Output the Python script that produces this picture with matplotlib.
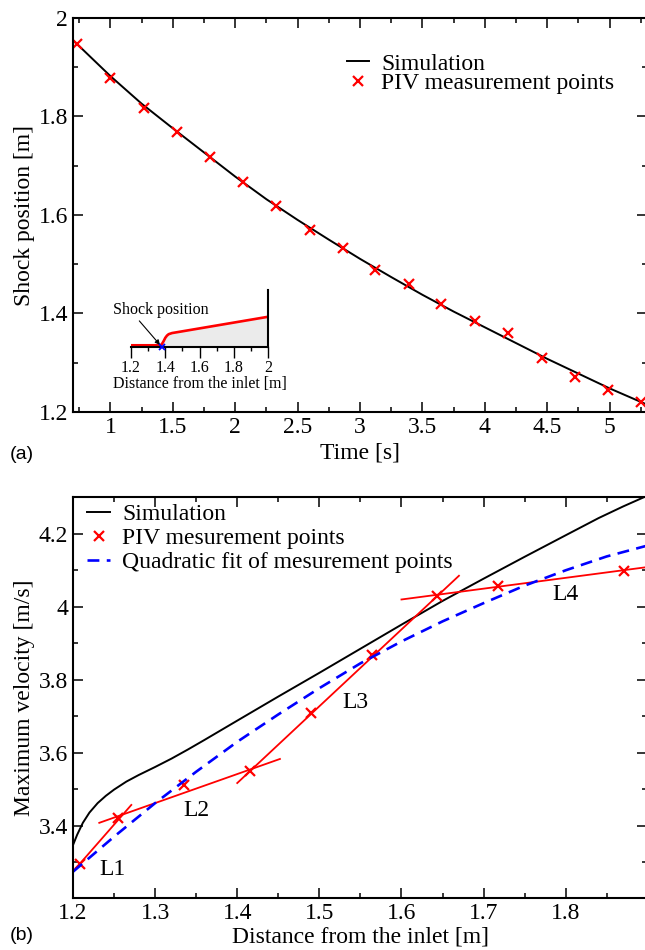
import matplotlib
matplotlib.use("Agg")
import matplotlib.pyplot as plt
from matplotlib.ticker import MultipleLocator, FuncFormatter

plt.rcParams['font.family'] = ['Liberation Serif', 'DejaVu Serif']

# ---------------- Panel (a) data ----------------
sim_t = [0.70, 1.00, 1.25, 1.50, 1.75, 2.00, 2.25, 2.50, 2.75, 3.00, 3.25, 3.50,
         3.75, 4.00, 4.25, 4.50, 4.75, 5.00, 5.30]
sim_pos = [1.955, 1.882, 1.826, 1.776, 1.727, 1.678, 1.632, 1.590, 1.550, 1.511,
           1.474, 1.438, 1.404, 1.372, 1.340, 1.308, 1.278, 1.248, 1.215]
piv_t = [0.735, 1.00, 1.27, 1.53, 1.80, 2.06, 2.33, 2.60, 2.86, 3.12, 3.39, 3.65,
         3.92, 4.19, 4.46, 4.72, 4.99, 5.25]
piv_pos = [1.947, 1.878, 1.817, 1.769, 1.717, 1.666, 1.618, 1.570, 1.534, 1.488,
           1.459, 1.419, 1.385, 1.360, 1.310, 1.272, 1.245, 1.220]

# inset profile
inset_x = [1.20, 1.37, 1.38, 1.39, 1.40, 1.41, 1.42, 1.44, 1.47, 2.00]
inset_y = [0.03, 0.03, 0.05, 0.10, 0.16, 0.20, 0.225, 0.245, 0.26, 0.53]
inset_shock_x = [1.38]
inset_shock_y = [0.0]
inset_ticks = [1.2, 1.4, 1.6, 1.8, 2.0]

# ---------------- Panel (b) data ----------------
simb_x = [1.200, 1.205, 1.212, 1.220, 1.230, 1.240, 1.250, 1.265, 1.280, 1.300,
          1.320, 1.340, 1.360, 1.400, 1.450, 1.500, 1.550, 1.600, 1.650, 1.700,
          1.750, 1.800, 1.840, 1.870, 1.900]
simb_y = [3.347, 3.375, 3.408, 3.436, 3.462, 3.482, 3.499, 3.521, 3.539, 3.561,
          3.584, 3.609, 3.635, 3.688, 3.754, 3.819, 3.885, 3.951, 4.016, 4.077,
          4.137, 4.196, 4.243, 4.275, 4.305]
pivb_x = [1.208, 1.255, 1.335, 1.416, 1.490, 1.564, 1.643, 1.717, 1.871]
pivb_y = [3.296, 3.421, 3.511, 3.550, 3.708, 3.868, 4.030, 4.058, 4.099]
fit_x = [1.20, 1.25, 1.30, 1.35, 1.40, 1.45, 1.50, 1.55, 1.60, 1.65, 1.70, 1.75,
         1.80, 1.85, 1.90]
fit_y = [3.274, 3.370, 3.462, 3.548, 3.630, 3.705, 3.777, 3.845, 3.905, 3.960,
         4.010, 4.058, 4.100, 4.138, 4.168]
seg_names = ['L1', 'L2', 'L3', 'L4']
seg_x = [[1.201, 1.271], [1.232, 1.452], [1.400, 1.670], [1.600, 1.900]]
seg_y = [[3.277, 3.457], [3.408, 3.583], [3.517, 4.085], [4.020, 4.109]]
seg_label_x = [1.2317, 1.334, 1.5277, 1.7838]
seg_label_y = [3.265, 3.427, 3.724, 4.018]

FS = 17
fig = plt.figure(figsize=(6.45, 9.5), dpi=100)

def style_axes(ax):
    for s in ax.spines.values():
        s.set_linewidth(1.5)
    ax.tick_params(which='both', direction='in', top=True, right=True,
                   labelsize=FS, pad=3.5, width=1.1)
    ax.tick_params(which='major', length=7.5)
    ax.tick_params(which='minor', length=3.5)

gfmt = FuncFormatter(lambda v, p: ('%g' % round(v, 6)))

# ---------------- Panel (a) ----------------
ax1 = fig.add_axes([73/645, 1-412/950, 574/645, 394/950])
ax1.plot(sim_t, sim_pos, color='black', lw=1.4, label='Simulation')
ax1.plot(piv_t, piv_pos, linestyle='none', marker='x', color='red', ms=7.5, mew=1.6,
         label='PIV measurement points')
ax1.set_xlim(0.7, 5.3)
ax1.set_ylim(1.2, 2.0)
ax1.xaxis.set_major_locator(MultipleLocator(0.5))
ax1.xaxis.set_minor_locator(MultipleLocator(0.25))
ax1.yaxis.set_major_locator(MultipleLocator(0.2))
ax1.yaxis.set_minor_locator(MultipleLocator(0.1))
ax1.xaxis.set_major_formatter(gfmt)
ax1.yaxis.set_major_formatter(gfmt)
style_axes(ax1)
ax1.set_xlabel('Time [s]', fontsize=FS, labelpad=3.5)
ax1.set_ylabel('Shock position [m]', fontsize=FS, labelpad=2.5)
ax1.legend(loc='center left', bbox_to_anchor=(0.477, 0.859), frameon=False,
           fontsize=FS, handlelength=0.95, handletextpad=0.5,
           labelspacing=-0.1, borderpad=0, borderaxespad=0)

# inset
axi = fig.add_axes([131/645, 1-347/950, 137/645, 57/950])
axi.fill_between(inset_x, 0, inset_y, color='#ebebeb', lw=0)
axi.plot(inset_x, inset_y, color='red', lw=1.9, solid_capstyle='butt')
axi.plot(inset_shock_x, inset_shock_y, linestyle='none', marker='x', color='blue',
         ms=5, mew=1.3, clip_on=False, zorder=5)
axi.set_xlim(1.2, 2.0)
axi.set_ylim(0, 1)
axi.patch.set_alpha(0)
axi.spines['left'].set_visible(False)
axi.spines['top'].set_visible(False)
axi.spines['bottom'].set_linewidth(1.5)
axi.spines['right'].set_linewidth(1.5)
axi.set_xticks(inset_ticks)
axi.xaxis.set_minor_locator(MultipleLocator(0.1))
axi.xaxis.set_major_formatter(gfmt)
axi.set_yticks([])
axi.tick_params(which='both', direction='out', width=1.0, labelsize=11.5, pad=1.0)
axi.tick_params(which='major', length=8)
axi.tick_params(which='minor', length=3.2)
axi.set_xlabel('Distance from the inlet [m]', fontsize=11.5, labelpad=0)
axi.annotate('Shock position', xy=(1.38, 0.0), xytext=(1.095, 0.647),
             textcoords='data', fontsize=11.5, ha='left', va='center',
             annotation_clip=False,
             arrowprops=dict(arrowstyle='-|>', color='black', lw=0.8,
                             mutation_scale=7, relpos=(0.25, 0.0),
                             shrinkA=0, shrinkB=2))

# ---------------- Panel (b) ----------------
ax2 = fig.add_axes([73/645, 1-898/950, 574/645, 400.7/950])
ax2.plot(simb_x, simb_y, color='black', lw=1.4, label='Simulation')
for xs, ys in zip(seg_x, seg_y):
    ax2.plot(xs, ys, color='red', lw=1.3)
ax2.plot(pivb_x, pivb_y, linestyle='none', marker='x', color='red', ms=7, mew=1.6,
         label='PIV mesurement points')
ax2.plot(fit_x, fit_y, color='blue', lw=1.9, linestyle=(0, (4.5, 2.8)),
         dash_capstyle='butt', label='Quadratic fit of mesurement points')
for name, lx, ly in zip(seg_names, seg_label_x, seg_label_y):
    ax2.text(lx, ly, name, fontsize=FS, ha='left', va='baseline')
ax2.set_xlim(1.2, 1.899)
ax2.set_ylim(3.202, 4.30)
ax2.xaxis.set_major_locator(MultipleLocator(0.1))
ax2.xaxis.set_minor_locator(MultipleLocator(0.05))
ax2.yaxis.set_major_locator(MultipleLocator(0.2))
ax2.yaxis.set_minor_locator(MultipleLocator(0.1))
ax2.xaxis.set_major_formatter(gfmt)
ax2.yaxis.set_major_formatter(gfmt)
style_axes(ax2)
ax2.set_xlabel('Distance from the inlet [m]', fontsize=FS, labelpad=2)
ax2.set_ylabel('Maximum velocity [m/s]', fontsize=FS, labelpad=2.5)
ax2.legend(loc='center left', bbox_to_anchor=(0.0239, 0.897), frameon=False,
           fontsize=FS, handlelength=1.0, handletextpad=0.5,
           labelspacing=0.1, borderpad=0, borderaxespad=0)

fig.text(22/645, 1-455/950, '(a)', fontsize=14, ha='center', va='center',
         family=['Liberation Sans', 'DejaVu Sans'])
fig.text(22/645, 1-935/950, '(b)', fontsize=14, ha='center', va='center',
         family=['Liberation Sans', 'DejaVu Sans'])

fig.savefig('out.png', dpi=100)
